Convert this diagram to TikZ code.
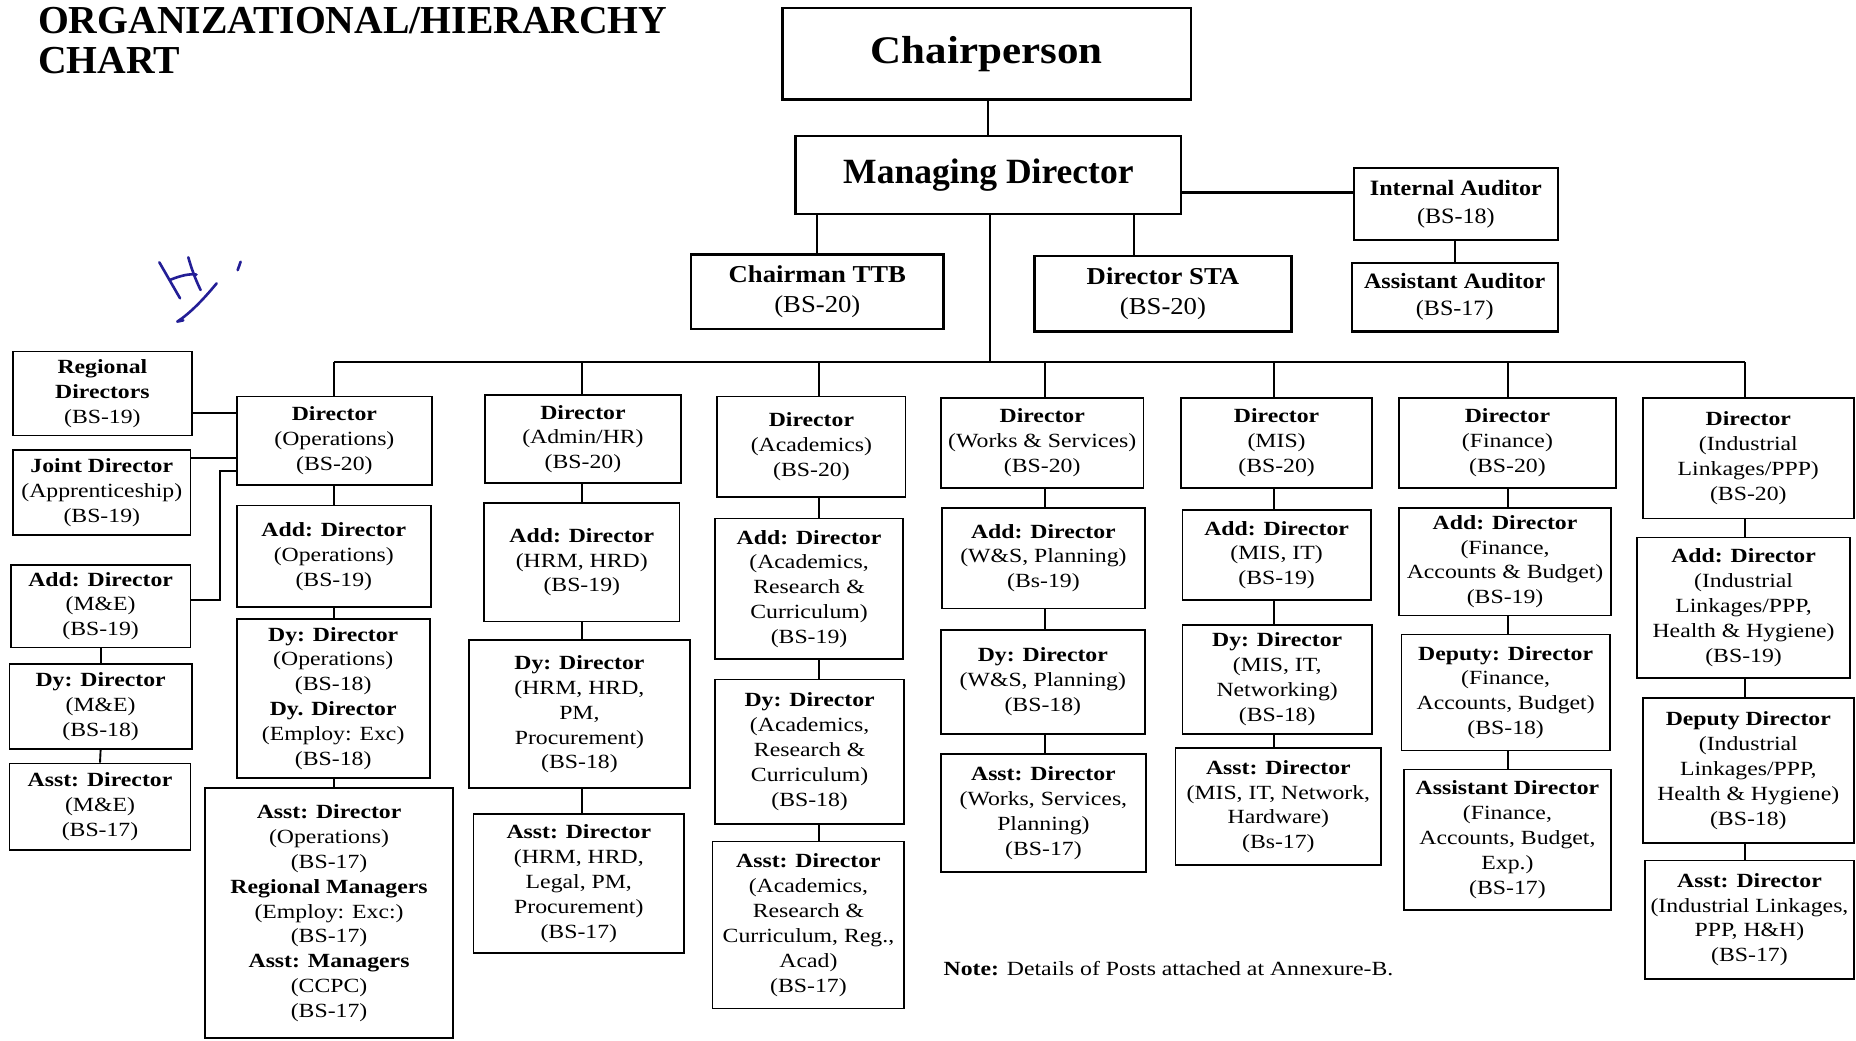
\documentclass[tikz,border=0pt]{standalone}
\usepackage{fontspec}
\setmainfont{Liberation Serif}
\newfontfamily\boxfont[FakeStretch=1.18]{Liberation Serif}
\newfontfamily\topfont[FakeStretch=1.1]{Liberation Serif}
\definecolor{ink}{RGB}{35,30,150}
\begin{document}
\begin{tikzpicture}[x=1pt,y=-1pt,
  box/.style={draw, line width=1.5pt, align=center, inner sep=0pt,
    font={\boxfont\fontsize{17}{21}\selectfont}},
  wire/.style={line width=1.6pt},
  topbox/.style={draw, line width=1.9pt, align=center, inner sep=0pt},
  titlefont/.style={anchor=base west, inner sep=0pt, font={\fontsize{33.5}{36}\selectfont\bfseries}}]
\fill[white] (0,0) rectangle (1568,879);
\useasboundingbox (0,0) rectangle (1568,879);

% title
\node[titlefont] (title1) at (32,28) {ORGANIZATIONAL/HIERARCHY};
\node[titlefont] (title2) at (32,62) {CHART};

% handwritten mark
\begin{scope}[ink, line width=2.2pt, line cap=round, line join=round]
\draw (134.6,221.6) -- (152.1,252.0);
\draw (143.6,236.5) .. controls (152,233) and (160,231) .. (166,232);
\draw (159.1,217.4) .. controls (162,228) and (166,238) .. (169.5,245.0);
\draw (183.0,239.4) .. controls (171,254) and (160,265) .. (149.8,271.7) -- (154.9,270.6);
\draw (203.3,221.1) -- (200.8,228.2);
\end{scope}

% top boxes
\node[topbox, minimum width=345pt, minimum height=77pt, font={\topfont\fontsize{33}{36}\selectfont\bfseries}] (chair) at (833.5,45.5) {Chairperson};
\node[topbox, minimum width=326pt, minimum height=66pt, font={\fontsize{30}{34}\selectfont\bfseries}] (md) at (835,148) {Managing Director};
\node[topbox, minimum width=172pt, minimum height=61pt, font={\topfont\fontsize{18.5}{23}\selectfont}] (ia) at (1230,172.5) {\textbf{Internal Auditor}\\(BS-18)};
\node[topbox, minimum width=174pt, minimum height=58pt, font={\topfont\fontsize{18.5}{23}\selectfont}] (aa) at (1229,251) {\textbf{Assistant Auditor}\\(BS-17)};
\node[topbox, minimum width=213pt, minimum height=63pt, font={\topfont\fontsize{20.5}{25}\selectfont}] (ttb) at (690.5,246.5) {\textbf{Chairman TTB}\\(BS-20)};
\node[topbox, minimum width=217pt, minimum height=64pt, font={\topfont\fontsize{20.5}{25}\selectfont}] (sta) at (982.5,248) {\textbf{Director STA}\\(BS-20)};

% left column
\node[box, minimum width=151pt, minimum height=71pt] (rd) at (86.5,332.5) {\textbf{Regional}\\\textbf{Directors}\\(BS-19)};
\node[box, minimum width=150pt, minimum height=72pt] (jd) at (86,416) {\textbf{Joint Director}\\(Apprenticeship)\\(BS-19)};
\node[box, minimum width=152pt, minimum height=70pt] (addme) at (85,512) {\textbf{Add: Director}\\(M\&E)\\(BS-19)};
\node[box, minimum width=154pt, minimum height=72pt] (dyme) at (85,597) {\textbf{Dy: Director}\\(M\&E)\\(BS-18)};
\node[box, minimum width=153pt, minimum height=73pt] (asstme) at (84.5,681.5) {\textbf{Asst: Director}\\(M\&E)\\(BS-17)};

% operations
\node[box, minimum width=165pt, minimum height=75pt] (ops) at (282.5,372.5) {\textbf{Director}\\(Operations)\\(BS-20)};
\node[box, minimum width=164pt, minimum height=86pt] (addops) at (282,470) {\textbf{Add: Director}\\(Operations)\\(BS-19)};
\node[box, minimum width=163pt, minimum height=134pt] (dyops) at (281.5,590) {\textbf{Dy: Director}\\(Operations)\\(BS-18)\\\textbf{Dy. Director}\\(Employ: Exc)\\(BS-18)};
\node[box, minimum width=210pt, minimum height=211pt] (asstops) at (278,771.5) {\textbf{Asst: Director}\\(Operations)\\(BS-17)\\\textbf{Regional Managers}\\(Employ: Exc:)\\(BS-17)\\\textbf{Asst: Managers}\\(CCPC)\\(BS-17)};

% admin
\node[box, minimum width=165pt, minimum height=74pt] (adm) at (492.5,371) {\textbf{Director}\\(Admin/HR)\\(BS-20)};
\node[box, minimum width=165pt, minimum height=100pt] (addadm) at (491.5,475) {\textbf{Add: Director}\\(HRM, HRD)\\(BS-19)};
\node[box, minimum width=187pt, minimum height=125pt] (dyadm) at (489.5,603.5) {\textbf{Dy: Director}\\(HRM, HRD,\\PM,\\Procurement)\\(BS-18)};
\node[box, minimum width=178pt, minimum height=117pt] (asstadm) at (489,746.5) {\textbf{Asst: Director}\\(HRM, HRD,\\Legal, PM,\\Procurement)\\(BS-17)};

% academics
\node[box, minimum width=159pt, minimum height=85pt] (acad) at (685.5,377.5) {\textbf{Director}\\(Academics)\\(BS-20)};
\node[box, minimum width=159pt, minimum height=119pt] (addacad) at (683.5,497.5) {\textbf{Add: Director}\\(Academics,\\Research \&\\Curriculum)\\(BS-19)};
\node[box, minimum width=160pt, minimum height=122pt] (dyacad) at (684,635) {\textbf{Dy: Director}\\(Academics,\\Research \&\\Curriculum)\\(BS-18)};
\node[box, minimum width=162pt, minimum height=141pt] (asstacad) at (683,781.5) {\textbf{Asst: Director}\\(Academics,\\Research \&\\Curriculum, Reg.,\\Acad)\\(BS-17)};

% works & services
\node[box, minimum width=171pt, minimum height=76pt] (ws) at (880.5,374) {\textbf{Director}\\(Works \& Services)\\(BS-20)};
\node[box, minimum width=171pt, minimum height=85pt] (addws) at (881.5,471.5) {\textbf{Add: Director}\\(W\&S, Planning)\\(Bs-19)};
\node[box, minimum width=172pt, minimum height=88pt] (dyws) at (881,576) {\textbf{Dy: Director}\\(W\&S, Planning)\\(BS-18)};
\node[box, minimum width=173pt, minimum height=100pt] (asstws) at (881.5,687) {\textbf{Asst: Director}\\(Works, Services,\\Planning)\\(BS-17)};

% MIS
\node[box, minimum width=161pt, minimum height=76pt] (mis) at (1078.5,374) {\textbf{Director}\\(MIS)\\(BS-20)};
\node[box, minimum width=159pt, minimum height=76pt] (addmis) at (1078.5,469) {\textbf{Add: Director}\\(MIS, IT)\\(BS-19)};
\node[box, minimum width=160pt, minimum height=92pt] (dymis) at (1079,574) {\textbf{Dy: Director}\\(MIS, IT,\\Networking)\\(BS-18)};
\node[box, minimum width=174pt, minimum height=99pt] (asstmis) at (1080,681.5) {\textbf{Asst: Director}\\(MIS, IT, Network,\\Hardware)\\(Bs-17)};

% finance
\node[box, minimum width=183pt, minimum height=76pt] (fin) at (1273.5,374) {\textbf{Director}\\(Finance)\\(BS-20)};
\node[box, minimum width=179pt, minimum height=91pt] (addfin) at (1271.5,474.5) {\textbf{Add: Director}\\(Finance,\\Accounts \& Budget)\\(BS-19)};
\node[box, minimum width=176pt, minimum height=98pt] (dyfin) at (1272,585) {\textbf{Deputy: Director}\\(Finance,\\Accounts, Budget)\\(BS-18)};
\node[box, minimum width=175pt, minimum height=119pt] (asstfin) at (1273.5,709.5) {\textbf{Assistant Director}\\(Finance,\\Accounts, Budget,\\Exp.)\\(BS-17)};

% industrial
\node[box, minimum width=178pt, minimum height=102pt] (ind) at (1477,387) {\textbf{Director}\\(Industrial\\Linkages/PPP)\\(BS-20)};
\node[box, minimum width=180pt, minimum height=119pt] (addind) at (1473,513.5) {\textbf{Add: Director}\\(Industrial\\Linkages/PPP,\\Health \& Hygiene)\\(BS-19)};
\node[box, minimum width=178pt, minimum height=122pt] (dyind) at (1477,651) {\textbf{Deputy Director}\\(Industrial\\Linkages/PPP,\\Health \& Hygiene)\\(BS-18)};
\node[box, minimum width=176pt, minimum height=100pt] (asstind) at (1478,777) {\textbf{Asst: Director}\\(Industrial Linkages,\\PPP, H\&H)\\(BS-17)};

% note
\node[anchor=west, inner sep=0pt, font={\boxfont\fontsize{17}{21}\selectfont}] (note) at (797,818) {\textbf{Note:} Details of Posts attached at Annexure-B.};

% helper coordinates
\coordinate (iaY) at (0,163);
\coordinate (staX) at (958,0);
\coordinate (busC) at (836,306);
\coordinate (cOps) at (282,306);
\coordinate (cAdm) at (492,306);
\coordinate (cAcad) at (692,306);
\coordinate (cWs) at (883,306);
\coordinate (cMis) at (1076,306);
\coordinate (cFin) at (1274,306);
\coordinate (cInd) at (1474,306);
\coordinate (rdY) at (0,349);
\coordinate (jdY) at (0,387);
\coordinate (meA) at (186,507);
\coordinate (meB) at (186,398);

% top connectors
\draw[wire] (md.north |- chair.south) -- (md.north);
\draw[line width=2.6pt] (md.east |- iaY) -- (ia.west |- iaY);
\draw[wire] (ia.south -| aa.north) -- (aa.north);
\draw[wire] (md.south -| ttb.north) -- (ttb.north);
\draw[wire] (md.south -| staX) -- (sta.north -| staX);
\draw[wire] (md.south -| busC) -- (busC);
\draw[wire] (cOps) -- (cInd);

% drops to directors
\draw[wire] (cOps) -- (cOps |- ops.north);
\draw[wire] (cAdm) -- (cAdm |- adm.north);
\draw[wire] (cAcad) -- (cAcad |- acad.north);
\draw[wire] (cWs) -- (cWs |- ws.north);
\draw[wire] (cMis) -- (cMis |- mis.north);
\draw[wire] (cFin) -- (cFin |- fin.north);
\draw[wire] (cInd) -- (cInd |- ind.north);

% left side links
\draw[wire] (rd.east |- rdY) -- (ops.west |- rdY);
\draw[wire] (jd.east |- jdY) -- (ops.west |- jdY);
\draw[wire] (addme.east |- meA) -- (meA) -- (meB) -- (ops.west |- meB);
\draw[wire] (addme.south) -- (dyme.north);
\draw[wire] (dyme.south) -- (asstme.north);

% column chains
\foreach \c/\a/\b in {cOps/ops/addops, cOps/addops/dyops, cOps/dyops/asstops,
  cAdm/adm/addadm, cAdm/addadm/dyadm, cAdm/dyadm/asstadm,
  cAcad/acad/addacad, cAcad/addacad/dyacad, cAcad/dyacad/asstacad,
  cWs/ws/addws, cWs/addws/dyws, cWs/dyws/asstws,
  cMis/mis/addmis, cMis/addmis/dymis, cMis/dymis/asstmis,
  cFin/fin/addfin, cFin/addfin/dyfin, cFin/dyfin/asstfin,
  cInd/ind/addind, cInd/addind/dyind, cInd/dyind/asstind}
  {\draw[wire] (\a.south -| \c) -- (\b.north -| \c);}
\end{tikzpicture}
\end{document}
